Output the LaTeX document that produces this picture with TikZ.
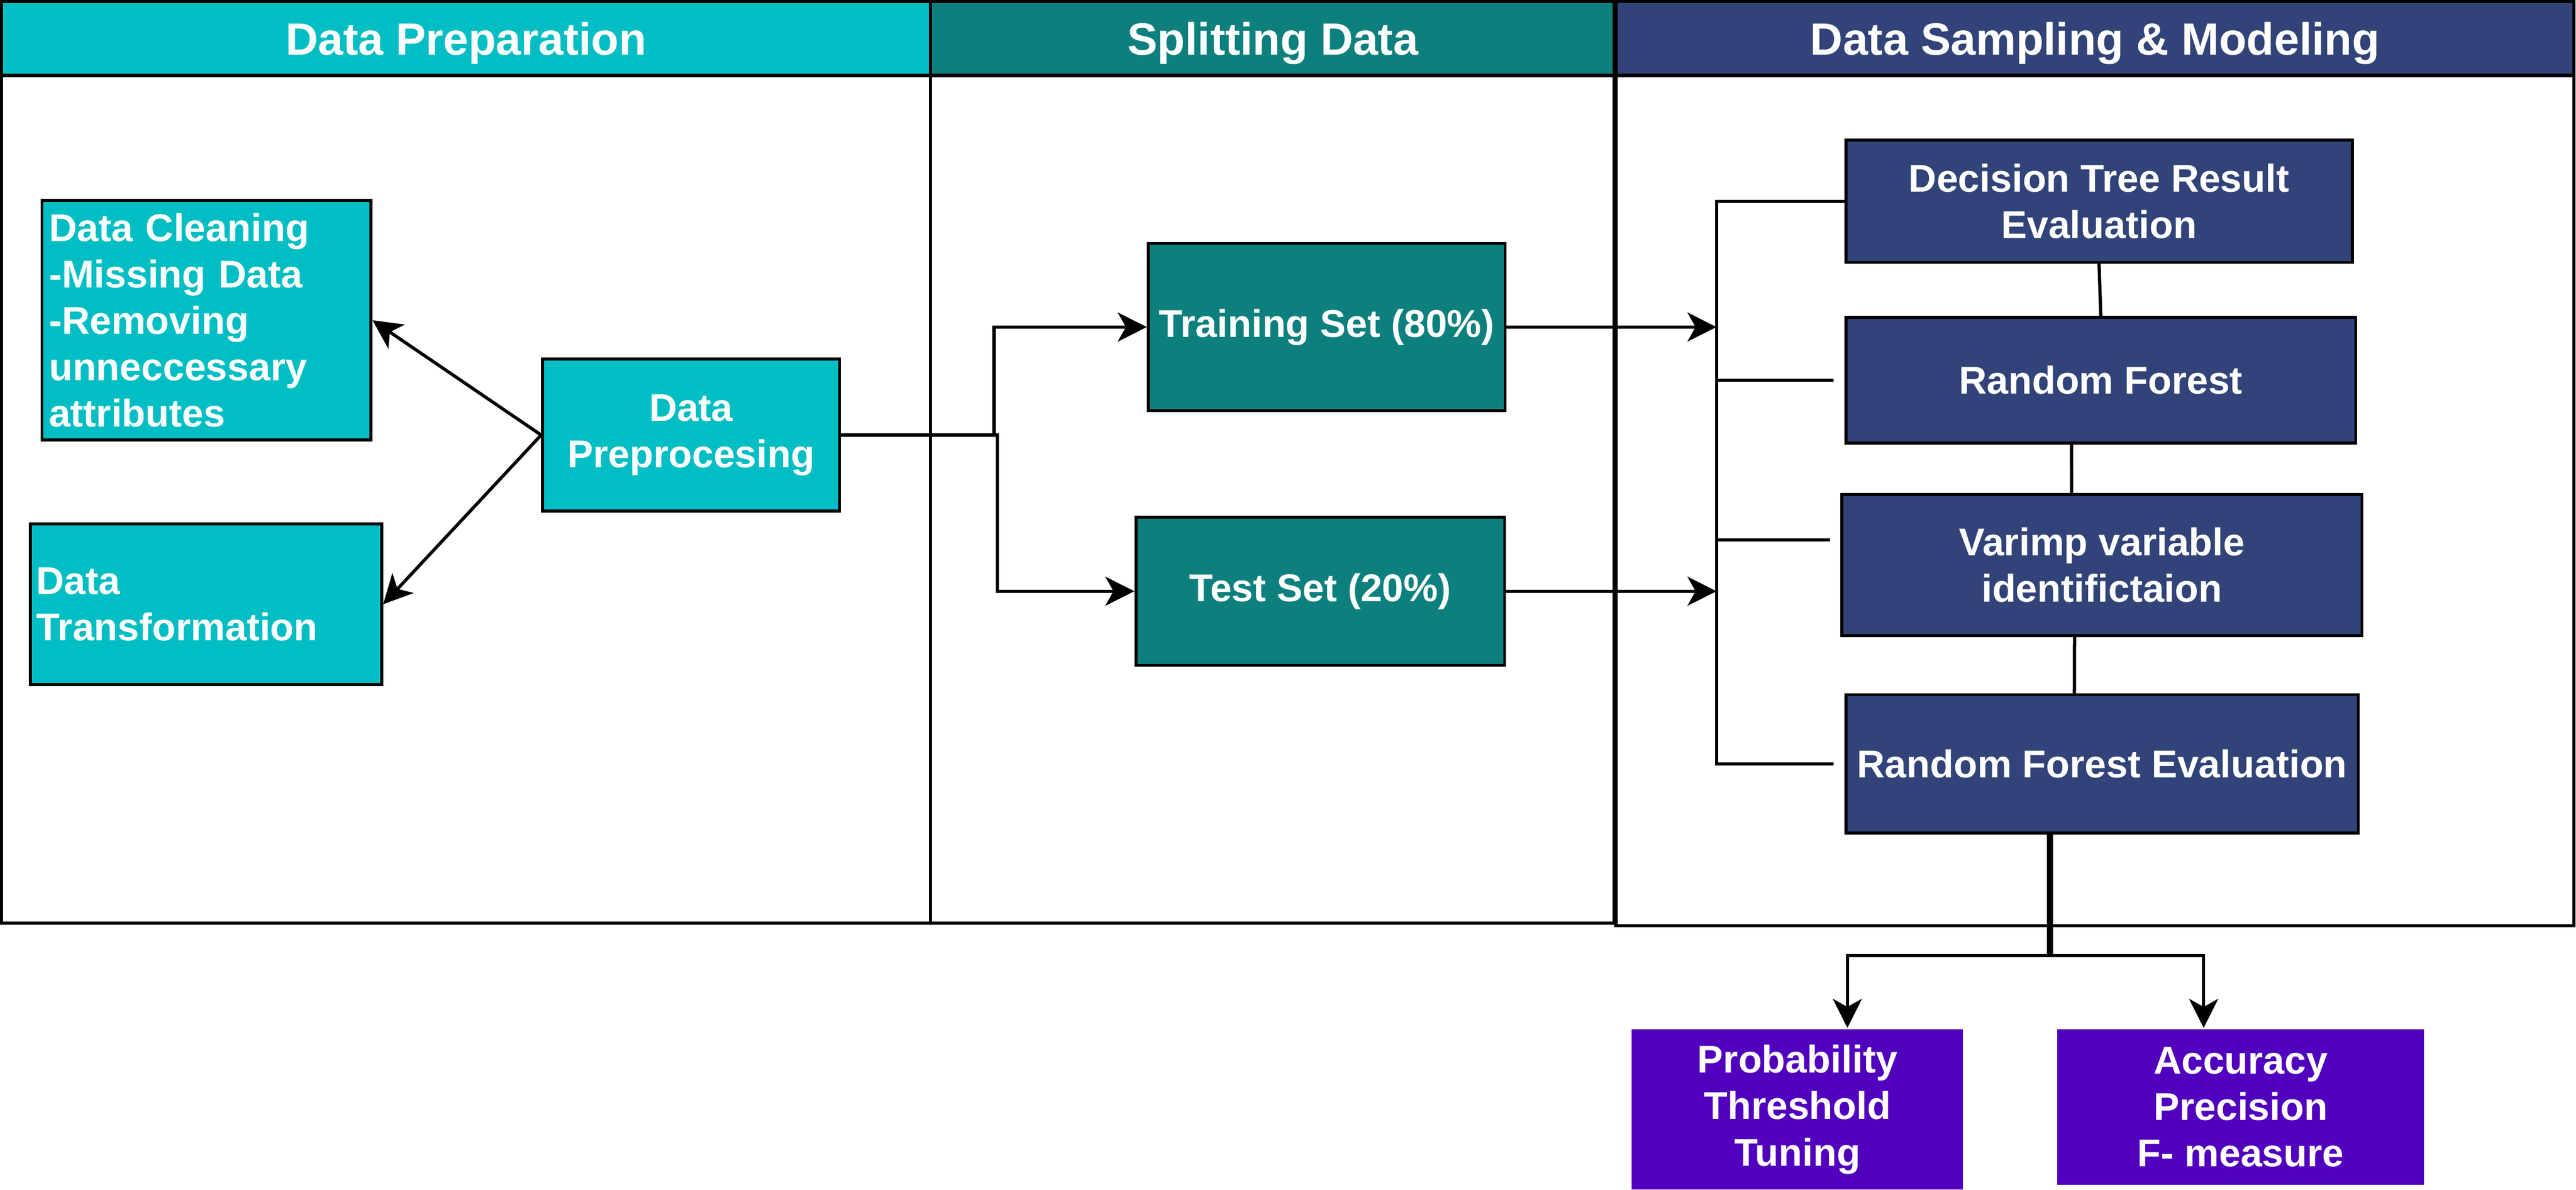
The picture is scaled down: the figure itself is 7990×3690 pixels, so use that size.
\documentclass[tikz,border=0pt]{standalone}
\usepackage{fontspec}
\setmainfont{Liberation Sans}
\usepackage{tikz}
\usetikzlibrary{arrows.meta}

\definecolor{prepcyan}{RGB}{0,190,196}
\definecolor{splitteal}{RGB}{13,128,125}
\definecolor{modelnavy}{RGB}{49,67,120}
\definecolor{evalpurple}{RGB}{81,0,190}

\begin{document}
\begin{tikzpicture}[x=0.1pt,y=-0.1pt,>={Stealth[length=9pt,width=9pt,inset=2.5pt]},
   every node/.style={font=\bfseries\fontsize{12}{14.4}\selectfont,text=white},
   head/.style={draw,line width=1pt,minimum height=22.9pt,text depth=0pt,font=\bfseries\fontsize{14}{16}\selectfont},
   box/.style={draw,line width=0.9pt,align=center},
   conn/.style={line width=1pt}]
   		\useasboundingbox (0,0) rectangle (7990,3690);
   		% lanes
   		\draw[line width=1pt] (5,234) rectangle (2886,2864);
   		\draw[line width=1pt] (2886,234) rectangle (5010,2864);
   		\draw[line width=1pt] (5012,234) rectangle (7984,2872);
   		\node[head,fill=prepcyan,minimum width=288.1pt] (hprep) at (1445.5,119.5) {Data Preparation};
   		\node[head,fill=splitteal,minimum width=212.4pt] (hsplit) at (3948,119.5) {Splitting Data};
   		\node[head,fill=modelnavy,minimum width=297.2pt] (hmodel) at (6498,119.5) {Data Sampling \& Modeling};
   		\draw[line width=1.6pt] (5010,5) -- (5010,2866);
   		% boxes
   		\node[box,fill=prepcyan,minimum width=102.1pt,minimum height=74.3pt,text width=97.7pt,align=left,inner sep=2.2pt] (clean) at (640.5,993.5) {Data Cleaning\\-Missing Data\\-Removing\\unneccessary\\attributes};
   		\node[box,fill=prepcyan,minimum width=109pt,minimum height=49.9pt,text width=105.4pt,align=left,inner sep=1.8pt] (trans) at (639,1874.5) {Data\\Transformation};
   		\node[box,fill=prepcyan,minimum width=92.1pt,minimum height=47.1pt] (prep) at (2143.5,1349.5) {Data\\Preprocesing};
   		\node[box,fill=splitteal,minimum width=110.4pt,minimum height=51.9pt] (train) at (4115,1014.5) {Training Set (80\%)};
   		\node[box,fill=splitteal,minimum width=114.4pt,minimum height=46pt] (test) at (4095,1834) {Test Set (20\%)};
   		\node[box,fill=modelnavy,minimum width=157.1pt,minimum height=37.9pt] (dt) at (6510.5,624.5) {Decision Tree Result\\Evaluation};
   		\node[box,fill=modelnavy,minimum width=158.2pt,minimum height=39pt] (rf) at (6516,1179) {Random Forest};
   		\node[box,fill=modelnavy,minimum width=161.3pt,minimum height=43.8pt] (vi) at (6519.5,1753) {Varimp variable\\identifictaion};
   		\node[box,fill=modelnavy,minimum width=159pt,minimum height=42.9pt] (rfe) at (6520,2369.5) {Random Forest Evaluation};
   		\node[box,draw=none,fill=evalpurple,minimum width=102.8pt,minimum height=49.7pt] (prob) at (5575,3441.5) {Probability\\Threshold\\Tuning};
   		\node[box,draw=none,fill=evalpurple,minimum width=113.8pt,minimum height=48.2pt] (acc) at (6950,3434) {Accuracy\\Precision\\F- measure};
   		% connectors
   		\coordinate (bx) at (5324,0);
   		\coordinate (vijoin) at ([xshift=-3.3pt,yshift=7.8pt]vi.west);
   		\draw[conn,->] (prep.west) -- (clean.east);
   		\draw[conn,->] (prep.west) -- (trans.east);
   		\draw[conn,->] (prep.east) -- ++(475,0) |- (train.west);
   		\draw[conn,->] (prep.east) -- ++(485,0) |- (test.west);
   		\draw[conn,->] (train.east) -- (train.east -| bx);
   		\draw[conn,->] (test.east) -- (test.east -| bx);
   		\draw[conn] (dt.west) -| (bx |- rfe.west) -- ([xshift=-3.3pt]rfe.west);
   		\draw[conn] (bx |- rf.west) -- ([xshift=-3.3pt]rf.west);
   		\draw[conn] (bx |- vijoin) -- (vijoin);
   		\draw[conn] (dt.south) -- (rf.north);
   		\draw[conn] ([xshift=-9.1pt]rf.south) -- ([xshift=-9.4pt]vi.north);
   		\draw[conn] ([xshift=-8.5pt]vi.south) -- ([xshift=-8.6pt]rfe.north);
   		\draw[line width=1.9pt] ([xshift=-16.2pt]rfe.south) -- ++(0,376) coordinate (sp);
   		\draw[conn,->] (sp) -| ([xshift=15.5pt]prob.north);
   		\draw[conn,->] (sp) -| ([xshift=-11.5pt]acc.north);
 	\end{tikzpicture}
\end{document}
